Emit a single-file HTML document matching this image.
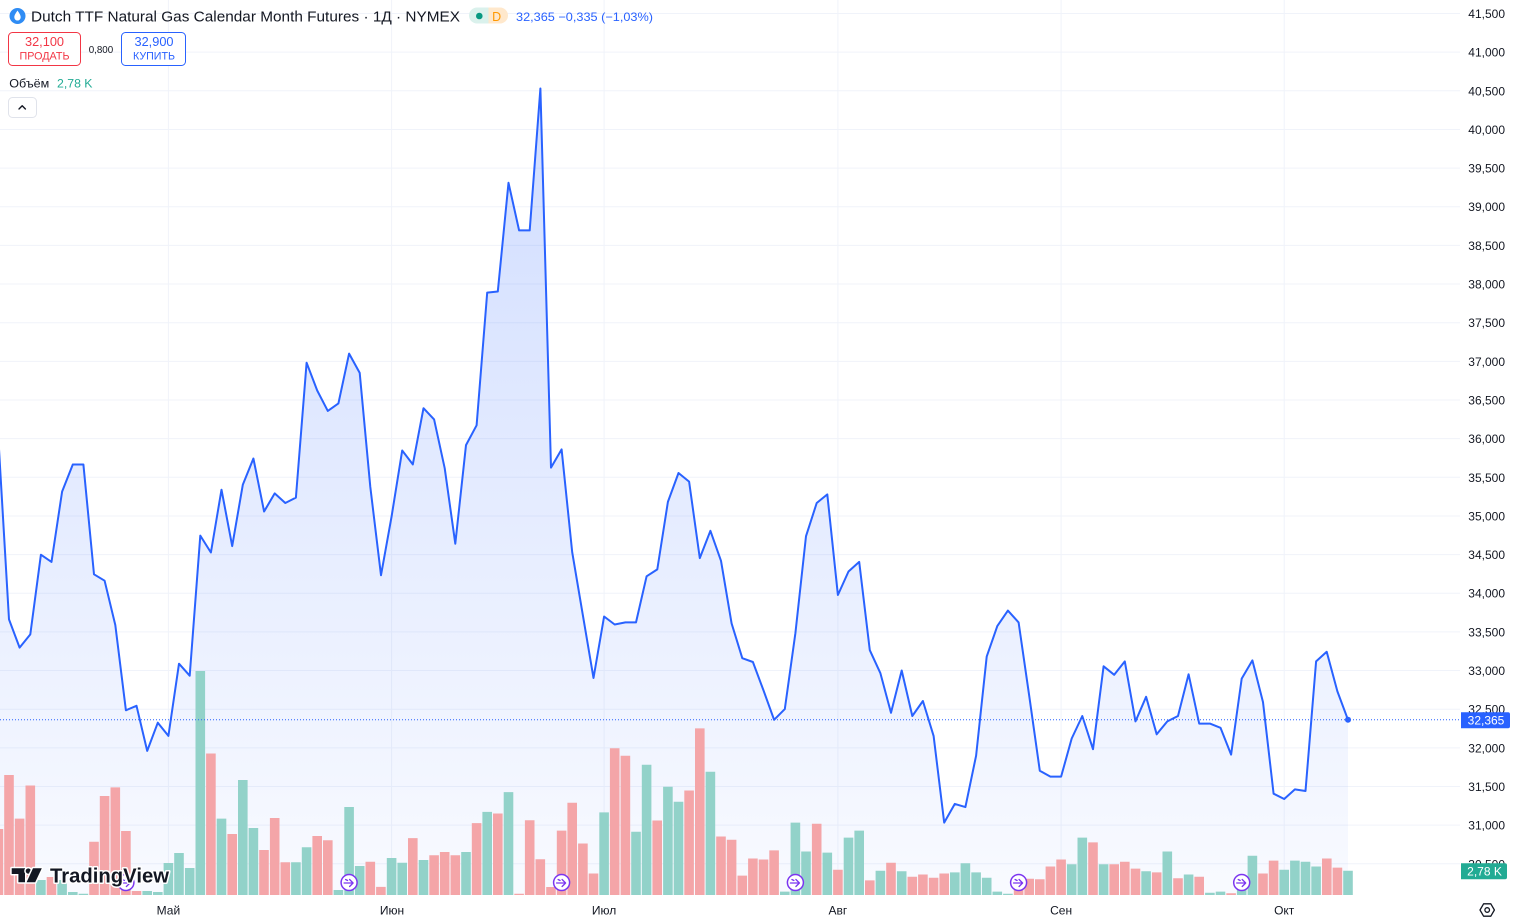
<!DOCTYPE html>
<html>
<head>
<meta charset="utf-8">
<style>
html,body{margin:0;padding:0;background:#fff;}
body{width:1514px;height:922px;overflow:hidden;}
svg{display:block;}
text{font-family:"Liberation Sans","Noto Sans CJK SC",sans-serif;}
</style>
</head>
<body>
<svg width="1514" height="922" viewBox="0 0 1514 922" xmlns="http://www.w3.org/2000/svg">
<defs>
<linearGradient id="ag" gradientUnits="userSpaceOnUse" x1="0" y1="88" x2="0" y2="895">
<stop offset="0" stop-color="#2962ff" stop-opacity="0.22"/>
<stop offset="1" stop-color="#2962ff" stop-opacity="0.03"/>
</linearGradient>
<clipPath id="pc"><rect x="0" y="0" width="1460" height="895"/></clipPath>
</defs>
<rect width="1514" height="922" fill="#fff"/>

<!-- grid -->
<g stroke="#f0f3fa" stroke-width="1">
<line x1="0" x2="1460" y1="13.5" y2="13.5"/>
<line x1="0" x2="1460" y1="52.15" y2="52.15"/>
<line x1="0" x2="1460" y1="90.8" y2="90.8"/>
<line x1="0" x2="1460" y1="129.45" y2="129.45"/>
<line x1="0" x2="1460" y1="168.1" y2="168.1"/>
<line x1="0" x2="1460" y1="206.75" y2="206.75"/>
<line x1="0" x2="1460" y1="245.4" y2="245.4"/>
<line x1="0" x2="1460" y1="284.05" y2="284.05"/>
<line x1="0" x2="1460" y1="322.7" y2="322.7"/>
<line x1="0" x2="1460" y1="361.35" y2="361.35"/>
<line x1="0" x2="1460" y1="400" y2="400"/>
<line x1="0" x2="1460" y1="438.65" y2="438.65"/>
<line x1="0" x2="1460" y1="477.3" y2="477.3"/>
<line x1="0" x2="1460" y1="515.95" y2="515.95"/>
<line x1="0" x2="1460" y1="554.6" y2="554.6"/>
<line x1="0" x2="1460" y1="593.25" y2="593.25"/>
<line x1="0" x2="1460" y1="631.9" y2="631.9"/>
<line x1="0" x2="1460" y1="670.55" y2="670.55"/>
<line x1="0" x2="1460" y1="709.2" y2="709.2"/>
<line x1="0" x2="1460" y1="747.85" y2="747.85"/>
<line x1="0" x2="1460" y1="786.5" y2="786.5"/>
<line x1="0" x2="1460" y1="825.15" y2="825.15"/>
<line x1="0" x2="1460" y1="863.8" y2="863.8"/>
<line x1="168.4" x2="168.4" y1="0" y2="895"/>
<line x1="391.6" x2="391.6" y1="0" y2="895"/>
<line x1="604.1" x2="604.1" y1="0" y2="895"/>
<line x1="837.9" x2="837.9" y1="0" y2="895"/>
<line x1="1061.1" x2="1061.1" y1="0" y2="895"/>
<line x1="1284.2" x2="1284.2" y1="0" y2="895"/>
</g>

<g clip-path="url(#pc)">
<!-- area fill -->
<path fill="url(#ag)" d="M-1.6,439 L9,619.4 19.6,647.6 30.3,634.4 40.9,554.7 51.5,561.9 62.1,491.6 72.8,464.5 83.4,464.5 94,574.3 104.6,580.7 115.3,625 125.9,710.3 136.5,705.8 147.2,750.9 157.8,722.7 168.4,735.9 179,663.7 189.7,675.7 200.3,535.6 210.9,552.5 221.5,489.7 232.2,546.1 242.8,484.8 253.4,458.5 264.1,511.5 274.7,493.4 285.3,503 295.9,497.6 306.6,362.7 317.2,390.5 327.8,410.9 338.4,403.4 349.1,353.6 359.7,372.9 370.3,486.9 381,575.2 391.6,516.4 402.2,450.5 412.8,464.4 423.5,408.2 434.1,419.4 444.7,468.2 455.3,543.7 466,445.1 476.6,425.3 487.2,292.6 497.8,291.5 508.5,182.8 519.1,230.4 529.7,230.4 540.4,88.5 551,467.6 561.6,449.4 572.2,552.2 582.9,615.4 593.5,678 604.1,616.5 614.7,624.5 625.4,622.4 636,622.4 646.6,576.3 657.3,569.4 667.9,501.9 678.5,473 689.1,481.6 699.8,558.1 710.4,530.8 721,560.8 731.6,623.4 742.3,658.2 752.9,662 763.5,690.4 774.1,719.8 784.8,709.1 795.4,633.1 806,536.2 816.7,503 827.3,494.4 837.9,595 848.5,571.5 859.2,561.9 869.8,650.2 880.4,673.2 891,712.8 901.7,670.5 912.3,716 922.9,701 933.6,735.9 944.2,822.6 954.8,803.9 965.4,807.1 976.1,755.7 986.7,656.6 997.3,626.1 1007.9,610.6 1018.6,622.4 1029.2,695.7 1039.8,770.7 1050.4,776.6 1061.1,776.6 1071.7,738.5 1082.3,716 1093,749.2 1103.6,666.3 1114.2,674.8 1124.8,661.4 1135.5,721.4 1146.1,696.8 1156.7,734.3 1167.3,721.4 1178,716 1188.6,674.3 1199.2,723.6 1209.9,723.6 1220.5,727.8 1231.1,754.6 1241.7,678.6 1252.4,660.4 1263,702.1 1273.6,793.7 1284.2,799 1294.9,789.4 1305.5,791 1316.1,661.4 1326.7,651.8 1337.4,691.4 1348,719.8 L1348,895 L-1.6,895 Z"/>

<!-- volume red -->
<path fill="#f4a5a8" d="M-6.4 829h9.6V895h-9.6zM4.2 775h9.6V895h-9.6zM14.8 818.6h9.6V895h-9.6zM25.5 785.5h9.6V895h-9.6zM46.7 877h9.6V895h-9.6zM89.2 841.8h9.6V895h-9.6zM99.8 796h9.6V895h-9.6zM110.5 787.4h9.6V895h-9.6zM121.1 831h9.6V895h-9.6zM131.7 891h9.6V895h-9.6zM206.1 753.5h9.6V895h-9.6zM227.4 834h9.6V895h-9.6zM259.2 850h9.6V895h-9.6zM269.9 818h9.6V895h-9.6zM280.5 862.2h9.6V895h-9.6zM312.4 836h9.6V895h-9.6zM323 840.3h9.6V895h-9.6zM365.5 861.7h9.6V895h-9.6zM376.1 886.9h9.6V895h-9.6zM408 838.1h9.6V895h-9.6zM429.3 855.3h9.6V895h-9.6zM439.9 852h9.6V895h-9.6zM450.5 855.3h9.6V895h-9.6zM471.8 823.1h9.6V895h-9.6zM493 813.5h9.6V895h-9.6zM514.3 893.8h9.6V895h-9.6zM524.9 820.3h9.6V895h-9.6zM535.5 859.2h9.6V895h-9.6zM546.2 887h9.6V895h-9.6zM556.8 830.6h9.6V895h-9.6zM567.4 802.8h9.6V895h-9.6zM578.1 843.5h9.6V895h-9.6zM588.7 873.5h9.6V895h-9.6zM609.9 748.2h9.6V895h-9.6zM620.6 755.7h9.6V895h-9.6zM652.4 820.5h9.6V895h-9.6zM684.3 790.5h9.6V895h-9.6zM695 728.4h9.6V895h-9.6zM716.2 836.5h9.6V895h-9.6zM726.8 839.7h9.6V895h-9.6zM737.5 875.6h9.6V895h-9.6zM748.1 858.5h9.6V895h-9.6zM758.7 859.5h9.6V895h-9.6zM769.3 850.4h9.6V895h-9.6zM811.9 823.7h9.6V895h-9.6zM833.1 869.7h9.6V895h-9.6zM865 880.4h9.6V895h-9.6zM886.2 862.8h9.6V895h-9.6zM907.5 876.7h9.6V895h-9.6zM918.1 874.5h9.6V895h-9.6zM928.8 877.7h9.6V895h-9.6zM939.4 873.5h9.6V895h-9.6zM1013.8 879h9.6V895h-9.6zM1024.4 878.8h9.6V895h-9.6zM1035 879.3h9.6V895h-9.6zM1045.6 866.5h9.6V895h-9.6zM1056.3 859.5h9.6V895h-9.6zM1088.2 842.4h9.6V895h-9.6zM1109.4 864.3h9.6V895h-9.6zM1120 861.7h9.6V895h-9.6zM1130.7 868.6h9.6V895h-9.6zM1151.9 872.4h9.6V895h-9.6zM1173.2 878.3h9.6V895h-9.6zM1194.4 876.7h9.6V895h-9.6zM1226.3 893.2h9.6V895h-9.6zM1258.2 873.5h9.6V895h-9.6zM1268.8 860.6h9.6V895h-9.6zM1322 858.5h9.6V895h-9.6zM1332.6 867.6h9.6V895h-9.6z"/>
<!-- volume teal -->
<path fill="#92d2c9" d="M36.1 880h9.6V895h-9.6zM57.3 880h9.6V895h-9.6zM68 892h9.6V895h-9.6zM78.6 893.7h9.6V895h-9.6zM142.4 891h9.6V895h-9.6zM153 892h9.6V895h-9.6zM163.6 863h9.6V895h-9.6zM174.2 853h9.6V895h-9.6zM184.9 868h9.6V895h-9.6zM195.5 671h9.6V895h-9.6zM216.7 818.6h9.6V895h-9.6zM238 780h9.6V895h-9.6zM248.6 828h9.6V895h-9.6zM291.1 862.2h9.6V895h-9.6zM301.8 847.2h9.6V895h-9.6zM333.6 890h9.6V895h-9.6zM344.3 807h9.6V895h-9.6zM354.9 866h9.6V895h-9.6zM386.8 858h9.6V895h-9.6zM397.4 862.8h9.6V895h-9.6zM418.7 860h9.6V895h-9.6zM461.2 852h9.6V895h-9.6zM482.4 811.9h9.6V895h-9.6zM503.7 792.1h9.6V895h-9.6zM599.3 812.4h9.6V895h-9.6zM631.2 831.7h9.6V895h-9.6zM641.8 764.8h9.6V895h-9.6zM663.1 786.7h9.6V895h-9.6zM673.7 801.7h9.6V895h-9.6zM705.6 771.7h9.6V895h-9.6zM780 891.6h9.6V895h-9.6zM790.6 822.6h9.6V895h-9.6zM801.2 851.5h9.6V895h-9.6zM822.5 852.6h9.6V895h-9.6zM843.7 837.6h9.6V895h-9.6zM854.4 830.6h9.6V895h-9.6zM875.6 870.8h9.6V895h-9.6zM896.9 871.3h9.6V895h-9.6zM950 872.4h9.6V895h-9.6zM960.6 863.3h9.6V895h-9.6zM971.3 872.4h9.6V895h-9.6zM981.9 877.7h9.6V895h-9.6zM992.5 891.6h9.6V895h-9.6zM1003.1 893.8h9.6V895h-9.6zM1066.9 864.3h9.6V895h-9.6zM1077.5 837.6h9.6V895h-9.6zM1098.8 864.3h9.6V895h-9.6zM1141.3 871.3h9.6V895h-9.6zM1162.5 851.5h9.6V895h-9.6zM1183.8 874.5h9.6V895h-9.6zM1205.1 892.7h9.6V895h-9.6zM1215.7 891.6h9.6V895h-9.6zM1236.9 888h9.6V895h-9.6zM1247.6 855.8h9.6V895h-9.6zM1279.4 869.7h9.6V895h-9.6zM1290.1 860.6h9.6V895h-9.6zM1300.7 861.7h9.6V895h-9.6zM1311.3 866.5h9.6V895h-9.6zM1343.2 870.8h9.6V895h-9.6z"/>

<!-- dotted last price line -->
<line x1="0" x2="1460" y1="719.8" y2="719.8" stroke="#2962ff" stroke-width="1" stroke-dasharray="1 2"/>

<!-- price line -->
<polyline fill="none" stroke="#2962ff" stroke-width="2" stroke-linejoin="round" stroke-linecap="round" points="-1.6,439 9,619.4 19.6,647.6 30.3,634.4 40.9,554.7 51.5,561.9 62.1,491.6 72.8,464.5 83.4,464.5 94,574.3 104.6,580.7 115.3,625 125.9,710.3 136.5,705.8 147.2,750.9 157.8,722.7 168.4,735.9 179,663.7 189.7,675.7 200.3,535.6 210.9,552.5 221.5,489.7 232.2,546.1 242.8,484.8 253.4,458.5 264.1,511.5 274.7,493.4 285.3,503 295.9,497.6 306.6,362.7 317.2,390.5 327.8,410.9 338.4,403.4 349.1,353.6 359.7,372.9 370.3,486.9 381,575.2 391.6,516.4 402.2,450.5 412.8,464.4 423.5,408.2 434.1,419.4 444.7,468.2 455.3,543.7 466,445.1 476.6,425.3 487.2,292.6 497.8,291.5 508.5,182.8 519.1,230.4 529.7,230.4 540.4,88.5 551,467.6 561.6,449.4 572.2,552.2 582.9,615.4 593.5,678 604.1,616.5 614.7,624.5 625.4,622.4 636,622.4 646.6,576.3 657.3,569.4 667.9,501.9 678.5,473 689.1,481.6 699.8,558.1 710.4,530.8 721,560.8 731.6,623.4 742.3,658.2 752.9,662 763.5,690.4 774.1,719.8 784.8,709.1 795.4,633.1 806,536.2 816.7,503 827.3,494.4 837.9,595 848.5,571.5 859.2,561.9 869.8,650.2 880.4,673.2 891,712.8 901.7,670.5 912.3,716 922.9,701 933.6,735.9 944.2,822.6 954.8,803.9 965.4,807.1 976.1,755.7 986.7,656.6 997.3,626.1 1007.9,610.6 1018.6,622.4 1029.2,695.7 1039.8,770.7 1050.4,776.6 1061.1,776.6 1071.7,738.5 1082.3,716 1093,749.2 1103.6,666.3 1114.2,674.8 1124.8,661.4 1135.5,721.4 1146.1,696.8 1156.7,734.3 1167.3,721.4 1178,716 1188.6,674.3 1199.2,723.6 1209.9,723.6 1220.5,727.8 1231.1,754.6 1241.7,678.6 1252.4,660.4 1263,702.1 1273.6,793.7 1284.2,799 1294.9,789.4 1305.5,791 1316.1,661.4 1326.7,651.8 1337.4,691.4 1348,719.8"/>
<circle cx="1348" cy="719.8" r="3" fill="#2962ff"/>

<!-- event icons -->
<g fill="#fff" stroke="#7b35f0" stroke-width="1.5">
<circle cx="125.9" cy="882.5" r="8"/>
<circle cx="349.1" cy="882.5" r="8"/>
<circle cx="561.6" cy="882.5" r="8"/>
<circle cx="795.4" cy="882.5" r="8"/>
<circle cx="1018.6" cy="882.5" r="8"/>
<circle cx="1241.7" cy="882.5" r="8"/>
</g>
<g fill="none" stroke="#7b35f0" stroke-width="1.3" stroke-linecap="round" stroke-linejoin="round">
<path d="M120.9 883h8M126.4 879.5l3.5 3.5-3.5 3.5M122.4 879.5l2 1"/>
<path d="M344.1 883h8M349.6 879.5l3.5 3.5-3.5 3.5M345.6 879.5l2 1"/>
<path d="M556.6 883h8M562.1 879.5l3.5 3.5-3.5 3.5M558.1 879.5l2 1"/>
<path d="M790.4 883h8M795.9 879.5l3.5 3.5-3.5 3.5M791.9 879.5l2 1"/>
<path d="M1013.6 883h8M1019.1 879.5l3.5 3.5-3.5 3.5M1015.1 879.5l2 1"/>
<path d="M1236.7 883h8M1242.2 879.5l3.5 3.5-3.5 3.5M1238.2 879.5l2 1"/>
</g>
</g>

<!-- TradingView logo -->
<g fill="#131722" stroke="#fff" stroke-width="3" stroke-linejoin="round" paint-order="stroke">
<path d="M11.7 868.3H25V882.3H18.4V874H11.7Z"/>
<circle cx="28.3" cy="871" r="2.6"/>
<path d="M33 868.3H41.8L35.2 882.3H26.6Z"/>
<text x="50" y="882.7" font-size="20" font-weight="bold" textLength="119" lengthAdjust="spacingAndGlyphs">TradingView</text>
</g>

<!-- right axis labels -->
<g font-size="12" fill="#131722" text-anchor="end">
<text x="1505" y="18">41,500</text>
<text x="1505" y="56.6">41,000</text>
<text x="1505" y="95.3">40,500</text>
<text x="1505" y="133.9">40,000</text>
<text x="1505" y="172.6">39,500</text>
<text x="1505" y="211.2">39,000</text>
<text x="1505" y="249.9">38,500</text>
<text x="1505" y="288.5">38,000</text>
<text x="1505" y="327.2">37,500</text>
<text x="1505" y="365.8">37,000</text>
<text x="1505" y="404.5">36,500</text>
<text x="1505" y="443.1">36,000</text>
<text x="1505" y="481.8">35,500</text>
<text x="1505" y="520.4">35,000</text>
<text x="1505" y="559.1">34,500</text>
<text x="1505" y="597.7">34,000</text>
<text x="1505" y="636.4">33,500</text>
<text x="1505" y="675">33,000</text>
<text x="1505" y="713.7">32,500</text>
<text x="1505" y="752.3">32,000</text>
<text x="1505" y="791">31,500</text>
<text x="1505" y="829.6">31,000</text>
<text x="1505" y="868.3">30,500</text>
</g>

<!-- price tag -->
<path d="M1461 712.3H1508a2 2 0 0 1 2 2V726.3a2 2 0 0 1-2 2H1461Z" fill="#2962ff"/>
<text x="1486" y="724.6" font-size="12" fill="#fff" text-anchor="middle">32,365</text>
<!-- volume tag -->
<path d="M1461 863.3H1505a2 2 0 0 1 2 2V877.3a2 2 0 0 1-2 2H1461Z" fill="#22ab94"/>
<text x="1484.5" y="875.7" font-size="12" fill="#fff" text-anchor="middle">2,78 K</text>

<!-- bottom month labels -->
<g font-size="12" fill="#131722" text-anchor="middle">
<text x="168.4" y="914.3">Май</text>
<text x="392" y="914.3">Июн</text>
<text x="604.1" y="914.3">Июл</text>
<text x="837.9" y="914.3">Авг</text>
<text x="1061.1" y="914.3">Сен</text>
<text x="1284.2" y="914.3">Окт</text>
</g>

<!-- settings icon -->
<path d="M1480 910l3.6-6.2h7.2l3.6 6.2-3.6 6.2h-7.2z" fill="none" stroke="#131722" stroke-width="1.3" stroke-linejoin="round"/>
<circle cx="1487.2" cy="910" r="2.3" fill="none" stroke="#131722" stroke-width="1.3"/>

<!-- header -->
<circle cx="17.5" cy="16" r="8" fill="#2f8cf4"/>
<path d="M17.5 10.5C15.5 13.5 14.3 15.3 14.3 17.3a3.2 3.2 0 0 0 6.4 0C20.7 15.3 19.5 13.5 17.5 10.5Z" fill="#fff"/>
<text x="31" y="21.3" font-size="14.5" fill="#131722" textLength="429" lengthAdjust="spacingAndGlyphs">Dutch TTF Natural Gas Calendar Month Futures · 1Д · NYMEX</text>

<path d="M477 7.5H488.5V23.5H477a8 8 0 0 1 0-16Z" fill="#daf1ec"/>
<path d="M488.5 7.5H500a8 8 0 0 1 0 16H488.5Z" fill="#ffe8cc"/>
<circle cx="479.3" cy="16" r="3.3" fill="#089981"/>
<text x="496.7" y="21" font-size="12.5" fill="#ff9800" text-anchor="middle">D</text>

<text x="516" y="21" font-size="12" fill="#2962ff" textLength="137" lengthAdjust="spacingAndGlyphs">32,365 −0,335 (−1,03%)</text>

<rect x="8.5" y="32.5" width="72" height="33" rx="4" fill="#fff" stroke="#f23645" stroke-width="1"/>
<text x="44.5" y="46.2" font-size="12.5" fill="#f23645" text-anchor="middle" textLength="39" lengthAdjust="spacingAndGlyphs">32,100</text>
<text x="44.5" y="59.4" font-size="11" fill="#f23645" text-anchor="middle" textLength="50" lengthAdjust="spacingAndGlyphs">ПРОДАТЬ</text>
<text x="88.7" y="52.8" font-size="10" fill="#131722" textLength="24.5" lengthAdjust="spacingAndGlyphs">0,800</text>
<rect x="121.5" y="32.5" width="64" height="33" rx="4" fill="#fff" stroke="#2962ff" stroke-width="1"/>
<text x="154" y="46.2" font-size="12.5" fill="#2962ff" text-anchor="middle" textLength="39" lengthAdjust="spacingAndGlyphs">32,900</text>
<text x="154" y="59.4" font-size="11" fill="#2962ff" text-anchor="middle" textLength="42" lengthAdjust="spacingAndGlyphs">КУПИТЬ</text>

<text x="9.3" y="87.3" font-size="12" fill="#131722" textLength="40" lengthAdjust="spacingAndGlyphs">Объём</text>
<text x="57" y="87.3" font-size="12" fill="#22ab94" textLength="35.5" lengthAdjust="spacingAndGlyphs">2,78 K</text>

<rect x="8.5" y="97.5" width="28" height="20" rx="4" fill="#fff" stroke="#e0e3eb" stroke-width="1"/>
<path d="M19 109l3.2-3.2 3.2 3.2" fill="none" stroke="#131722" stroke-width="1.4" stroke-linecap="round" stroke-linejoin="round"/>
</svg>
</body>
</html>
